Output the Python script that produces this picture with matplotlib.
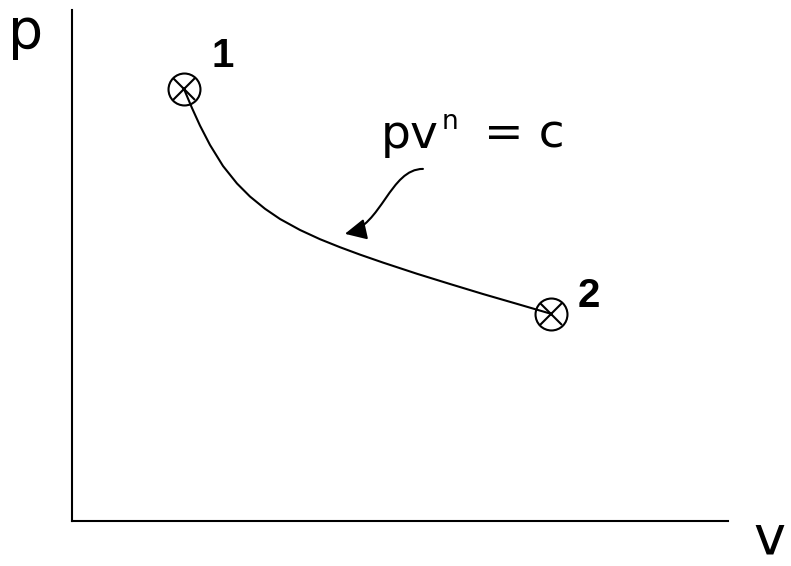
import matplotlib
matplotlib.use("Agg")
import matplotlib.pyplot as plt
from matplotlib.path import Path
from matplotlib.patches import FancyArrowPatch

# ---- data (v, p in arbitrary units) ----
curve_v = [1.707, 1.829, 1.951, 2.104, 2.302, 2.515, 2.713, 2.942, 3.171, 3.476,
           3.780, 4.085, 4.390, 4.741, 5.259, 5.762, 6.265, 6.784, 7.302]
curve_p = [8.454, 8.082, 7.738, 7.358, 6.947, 6.605, 6.350, 6.110, 5.910, 5.695,
           5.515, 5.358, 5.213, 5.057, 4.838, 4.638, 4.442, 4.249, 4.055]
state_labels = ["1", "2"]
state_v = [1.707, 7.302]
state_p = [8.454, 4.055]
axis_labels = ["p", "v"]
law_text = ["pv", "n", "= c"]
# arrow path (cubic Bezier) from the equation label to the curve
arrow_v = [5.35, 4.85, 4.72, 4.16]
arrow_p = [6.89, 6.89, 5.78, 5.62]

W, H, DPI = 791, 566, 100
fig = plt.figure(figsize=(W / DPI, H / DPI), dpi=DPI)
ax = fig.add_axes([72 / W, 45 / H, 656 / W, 511 / H])
ax.set_xlim(0, 10)
ax.set_ylim(0, 10)
for s in ["top", "right"]:
    ax.spines[s].set_visible(False)
for s in ["left", "bottom"]:
    ax.spines[s].set_linewidth(1.5)
    ax.spines[s].set_color("black")
ax.set_xticks([])
ax.set_yticks([])

# process curve
ax.plot(curve_v, curve_p, color="black", lw=1.5, solid_capstyle="round",
        solid_joinstyle="round", zorder=2)

# state points: circle with a cross
ax.plot(state_v, state_p, linestyle="none", marker="o", markersize=23,
        markerfacecolor="none", markeredgecolor="black", markeredgewidth=1.5,
        zorder=3)
ax.plot(state_v, state_p, linestyle="none", marker="x", markersize=16,
        markeredgecolor="black", markeredgewidth=1.5, zorder=3)

# state labels
label_offsets = [(0.42, 0.43), (0.40, 0.14)]
for lab, v, p, (dv, dp) in zip(state_labels, state_v, state_p, label_offsets):
    ax.text(v + dv, p + dp, lab, fontsize=29, fontweight="bold",
            family="Liberation Sans", ha="left", va="baseline", clip_on=False)

# axis labels
ax.text(-0.97, 9.26, axis_labels[0], fontsize=40, family="DejaVu Sans",
        ha="left", va="baseline", clip_on=False)
ax.text(10.38, -0.64, axis_labels[1], fontsize=39, family="DejaVu Sans",
        ha="left", va="baseline", clip_on=False)

# equation label
ax.text(4.70, 7.30, law_text[0], fontsize=34, family="DejaVu Sans",
        ha="left", va="baseline", clip_on=False)
ax.text(5.63, 7.68, law_text[1], fontsize=19, family="DejaVu Sans",
        ha="left", va="baseline", clip_on=False)
ax.text(6.28, 7.30, law_text[2], fontsize=34, family="DejaVu Sans",
        ha="left", va="baseline", clip_on=False)

# curvy pointer arrow
path = Path(list(zip(arrow_v, arrow_p)),
            [Path.MOVETO, Path.CURVE4, Path.CURVE4, Path.CURVE4])
arr = FancyArrowPatch(path=path, arrowstyle="-|>,head_length=0.65,head_width=0.32",
                      mutation_scale=20, color="black", lw=1.5,
                      shrinkA=0, shrinkB=0, transform=ax.transData)
ax.add_patch(arr)

fig.savefig("out.png", dpi=DPI)
